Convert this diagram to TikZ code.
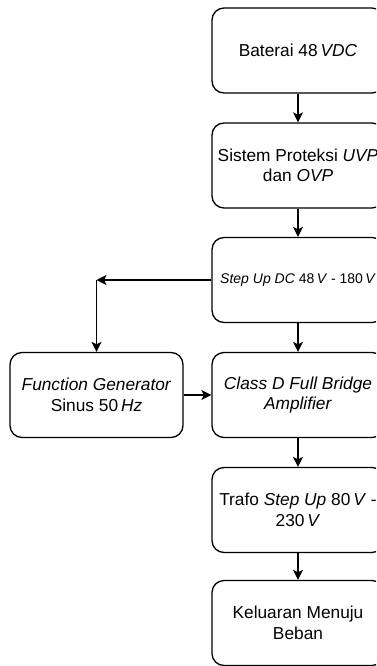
\documentclass[tikz,border=0pt]{standalone}
\usepackage{fontspec}
\setmainfont{Liberation Sans}
\usetikzlibrary{arrows.meta}
\begin{document}
\begin{tikzpicture}[x=1pt,y=-1pt,
  box/.style={draw, rounded corners=12pt, line width=1.3pt, minimum width=172pt, minimum height=85pt, inner sep=0pt},
  txt/.style={align=center, font=\fontsize{17.3}{20.5}\selectfont, inner sep=0pt},
  smalltxt/.style={align=center, font=\fontsize{14}{17}\selectfont, inner sep=0pt},
  arr/.style={-{Stealth[length=10pt,width=10pt,inset=2.5pt]}, line width=1.3pt}]
\useasboundingbox (0,0) rectangle (376,666);
\clip (0,0) rectangle (376,666);
\node[box, label={[txt]center:Baterai 48\,\textit{VDC}}] (b1) at (298,50.5) {};
\node[box, label={[txt]center:Sistem Proteksi \textit{UVP}\\dan \textit{OVP}}] (b2) at (298,165.5) {};
\node[box, label={[smalltxt]center:\textit{Step Up DC} 48\,\textit{V} - 180\,\textit{V}}] (b3) at (298,280) {};
\node[box, label={[txt]center:\textit{Class D Full Bridge}\\\textit{Amplifier}}] (b4) at (298,395) {};
\node[box, label={[txt]center:Trafo \textit{Step Up} 80\,\textit{V} -\\230\,\textit{V}}] (b5) at (298,510) {};
\node[box, label={[txt]center:Keluaran Menuju\\Beban}] (b6) at (298,623) {};
\node[box, minimum width=173pt, label={[txt]center:\textit{Function Generator}\\Sinus 50\,\textit{Hz}}] (fg) at (96.5,395) {};
\coordinate (c) at (96.5,280);
\draw[arr] (b1.south) -- (b2.north);
\draw[arr] (b2.south) -- (b3.north);
\draw[arr] (b3.south) -- (b4.north);
\draw[arr] (b4.south) -- (b5.north);
\draw[arr] (b5.south) -- (b6.north);
\draw[arr] (b3.west) -- (c);
\draw[arr] (c) -- (fg.north);
\draw[arr] (fg.east) -- (b4.west);
\end{tikzpicture}
\end{document}
